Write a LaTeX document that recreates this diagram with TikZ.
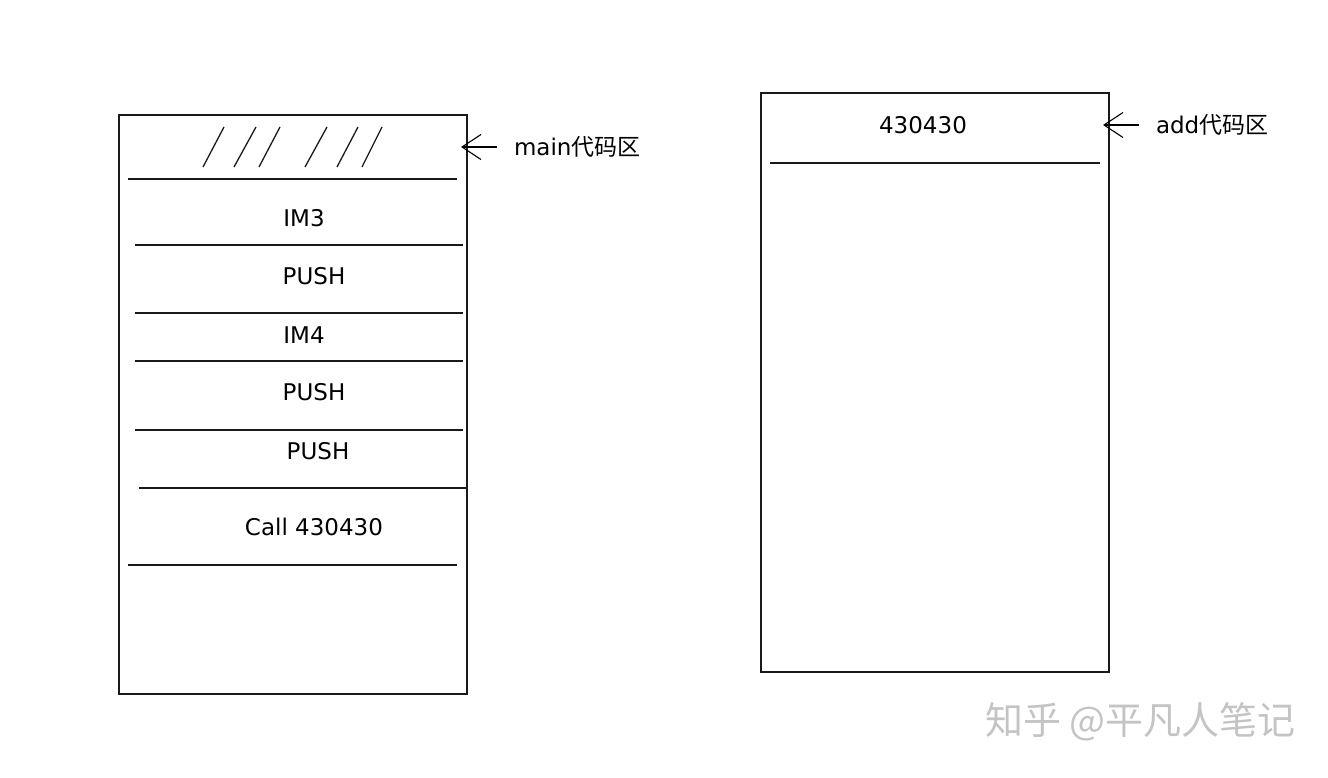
\documentclass[tikz,border=0pt]{standalone}
\usepackage{fontspec}
\setmainfont{DejaVu Sans}
\newfontfamily\cjk{Noto Sans CJK SC}
\usepackage{xcolor}
\usetikzlibrary{positioning,arrows.meta}
\definecolor{inkline}{HTML}{1A1A1A}
\definecolor{markgray}{HTML}{C4C4C4}

\begin{document}
\begin{tikzpicture}[
  x=1pt, y=-1pt,
  area/.style={draw=inkline, line width=1.4pt, minimum width=348pt, minimum height=579pt, inner sep=0pt},
  cell/.style={font=\fontsize{23}{26}\selectfont, inner sep=0pt},
  divider/.style={draw=inkline, line width=1.4pt},
  hatch/.style={draw=inkline, line width=1.3pt},
  tag/.style={font=\fontsize{23}{26}\selectfont, anchor=west, inner sep=0pt, outer sep=17pt},
  pointer/.style={-{Straight Barb[length=19pt, width=25pt]}, line width=1.1pt}
]
\useasboundingbox (0,0) rectangle (1328,778);
% main code area
\node[area] (mainbox) at (293,404.5) {};
\foreach \xa/\xb in {203/224, 234/256, 259/280, 305/327, 337/358, 362/382}
  \draw[hatch] (\xa,167) -- (\xb,127);
\draw[divider] (128,179) -- (457,179);
\node[cell] (im3) at (304,218) {IM3};
\draw[divider] (135,245) -- (463,245);
\node[cell] (push1) at (314,276) {PUSH};
\draw[divider] (135,313) -- (463,313);
\node[cell] (im4) at (304,335) {IM4};
\draw[divider] (135,361) -- (463,361);
\node[cell] (push2) at (314,392) {PUSH};
\draw[divider] (135,430) -- (463,430);
\node[cell] (push3) at (318,451) {PUSH};
\draw[divider] (139,488) -- (467,488);
\node[cell] (call) at (314,527) {Call 430430};
\draw[divider] (128,565) -- (457,565);
\node[tag] (mainlbl) at (497,147) {main{\cjk 代码区}};
\coordinate (mainhead) at (461,147);
\draw[pointer] (mainlbl) -- (mainhead);

% add code area
\node[area] (addbox) at (935,382.5) {};
\node[cell] (addr) at (923,125) {430430};
\draw[divider] (770,163) -- (1100,163);
\node[tag] (addlbl) at (1139,125) {add{\cjk 代码区}};
\coordinate (addhead) at (1103,125);
\draw[pointer] (addlbl) -- (addhead);

\node[font=\fontsize{38}{42}\selectfont\cjk, text=markgray, anchor=east, inner sep=0pt] (mark) at (1296,722) {知乎 @平凡人笔记};
\end{tikzpicture}
\end{document}
